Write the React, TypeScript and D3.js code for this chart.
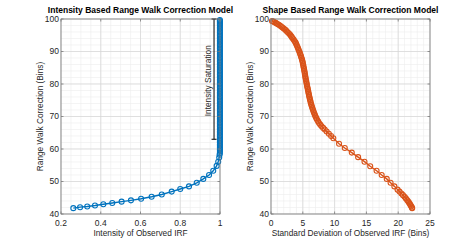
import React from "react";
import * as d3 from "d3";

// intensity model (left): curved part, then the saturated column at intensity 1
const intensityCurve: [number, number][] = [
  [0.262, 41.8], [0.296, 42.1], [0.332, 42.3], [0.371, 42.6], [0.413, 43.0],
  [0.458, 43.4], [0.505, 43.8], [0.552, 44.2], [0.603, 44.7], [0.656, 45.3],
  [0.707, 46.0], [0.757, 46.9], [0.8, 47.7], [0.844, 48.5], [0.883, 49.6],
  [0.916, 50.8], [0.945, 52.0], [0.966, 53.3], [0.983, 54.8], [0.991, 56.1],
  [0.996, 57.4], [0.998, 58.2],
];
const saturatedIntensity = 0.9995;
const saturatedY = [
  58.8, 59.4, 59.9, 60.4, 60.9, 61.4, 61.9, 62.4, 62.9, 63.4, 63.9, 64.4, 64.9,
  65.4, 65.9, 66.4, 66.9, 67.4, 67.9, 68.4, 68.9, 69.4, 69.9, 70.4, 70.9, 71.4,
  71.9, 72.4, 72.9, 73.4, 73.9, 74.4, 74.9, 75.4, 75.9, 76.4, 76.9, 77.4, 77.9,
  78.4, 78.9, 79.4, 79.9, 80.4, 80.9, 81.4, 81.9, 82.4, 82.9, 83.4, 83.9, 84.4,
  84.9, 85.4, 85.9, 86.4, 86.9, 87.4, 87.9, 88.4, 88.9, 89.4, 89.9, 90.4, 90.9,
  91.4, 91.9, 92.4, 92.9, 93.4, 93.9, 94.4, 94.9, 95.4, 95.9, 96.4, 96.9, 97.4,
  97.9, 98.3, 98.7, 99.1, 99.4, 99.7,
];

// shape model (right): [std dev, correction]
const shapeCurve: [number, number][] = [
  [0.15, 99.4], [0.35, 99.2], [0.55, 99.0], [0.75, 98.8], [0.95, 98.55],
  [1.15, 98.3], [1.35, 98.05], [1.55, 97.75], [1.75, 97.45], [1.95, 97.15],
  [2.15, 96.85], [2.35, 96.5], [2.55, 96.1], [2.75, 95.7], [2.95, 95.3],
  [3.1, 94.9], [3.25, 94.5], [3.4, 94.1], [3.55, 93.7], [3.7, 93.25],
  [3.85, 92.8], [3.95, 92.35], [4.05, 91.9], [4.15, 91.45], [4.25, 91.0],
  [4.35, 90.5], [4.45, 90.0], [4.55, 89.5], [4.63, 89.0], [4.72, 88.5],
  [4.8, 88.0], [4.88, 87.5], [4.95, 87.0], [5.0, 86.5], [5.05, 86.0],
  [5.1, 85.5], [5.15, 85.0], [5.2, 84.5], [5.25, 84.0], [5.3, 83.5],
  [5.33, 83.0], [5.38, 82.5], [5.42, 82.0], [5.47, 81.5], [5.52, 81.0],
  [5.57, 80.5], [5.62, 80.0], [5.67, 79.5], [5.72, 79.0], [5.78, 78.5],
  [5.83, 78.0], [5.88, 77.5], [5.93, 77.0], [5.98, 76.5], [6.04, 76.0],
  [6.1, 75.5], [6.16, 75.0], [6.22, 74.5], [6.28, 74.0], [6.36, 73.5],
  [6.44, 73.0], [6.52, 72.5], [6.61, 72.0], [6.7, 71.5], [6.79, 71.0],
  [6.9, 70.5], [7.0, 70.0], [7.12, 69.5], [7.25, 69.0], [7.4, 68.5],
  [7.55, 68.0], [7.75, 67.5], [7.95, 67.0], [8.2, 66.5], [8.45, 66.0],
  [8.75, 65.4], [9.1, 64.7], [9.45, 64.0], [9.8, 63.3], [10.7, 61.6],
  [11.6, 60.3], [12.7, 58.9], [13.7, 57.5], [14.7, 56.1], [15.6, 54.7],
  [16.6, 53.3], [17.4, 52.0], [18.2, 50.8], [18.8, 49.6], [19.4, 48.5],
  [19.9, 47.5], [20.2, 46.9], [20.5, 46.3], [20.75, 45.8], [21.0, 45.3],
  [21.2, 44.8], [21.4, 44.3], [21.55, 43.9], [21.7, 43.5], [21.85, 43.1],
  [21.95, 42.7], [22.05, 42.35], [22.15, 42.0], [22.2, 41.8],
];

const yTicks = [40, 50, 60, 70, 80, 90, 100];
const leftXTicks = [0.2, 0.4, 0.6, 0.8, 1];
const rightXTicks = [0, 5, 10, 15, 20, 25];

const saturationX = 0.97;
const saturationLow = 63;
const saturationHigh = 100;

const W = 475;
const H = 241;
const FONT = "'Liberation Sans', Arial, Helvetica, sans-serif";
const TXT = "#262626";
const AX = "#7a7a7a";

type Scale = d3.ScaleLinear<number, number>;

type PanelProps = {
  left: number;
  right: number;
  xDomain: [number, number];
  xTicks: number[];
  xMinorCount: number;
  pts: [number, number][];
  color: string;
  title: string;
  xLabel: string;
  children?: (x: Scale, y: Scale) => React.ReactNode;
};

const top = 19;
const bottom = 214;

function Panel({ left, right, xDomain, xTicks, xMinorCount, pts, color, title, xLabel, children }: PanelProps) {
  const x = d3.scaleLinear().domain(xDomain).range([left, right]);
  const y = d3.scaleLinear().domain([40, 100]).range([bottom, top]);
  const xMinor = x.ticks(xMinorCount);
  const yMinor = y.ticks(30);
  const line = d3.line<[number, number]>().x(d => x(d[0])).y(d => y(d[1]));
  const cx = (left + right) / 2;
  const cy = (top + bottom) / 2;
  const tl = 2.5;

  return (
    <g fontFamily={FONT}>
      <rect x={left} y={top} width={right - left} height={bottom - top} fill="#fff" />
      {/* minor grid */}
      {xMinor.map(t => (
        <line key={"xm" + t} x1={x(t)} x2={x(t)} y1={top} y2={bottom} stroke="#ececec" strokeWidth={0.6} />
      ))}
      {yMinor.map(t => (
        <line key={"ym" + t} x1={left} x2={right} y1={y(t)} y2={y(t)} stroke="#ececec" strokeWidth={0.6} />
      ))}
      {/* major grid */}
      {xTicks.map(t => (
        <line key={"xg" + t} x1={x(t)} x2={x(t)} y1={top} y2={bottom} stroke="#d6d6d6" strokeWidth={0.7} />
      ))}
      {yTicks.map(t => (
        <line key={"yg" + t} x1={left} x2={right} y1={y(t)} y2={y(t)} stroke="#d6d6d6" strokeWidth={0.7} />
      ))}

      {/* data */}
      <path d={line(pts) ?? ""} fill="none" stroke={color} strokeWidth={1.4} />
      {pts.map((p, i) => (
        <circle key={i} cx={x(p[0])} cy={y(p[1])} r={2.5} fill="none" stroke={color} strokeWidth={1.1} />
      ))}

      {children && children(x, y)}

      {/* box and ticks */}
      <rect x={left} y={top} width={right - left} height={bottom - top} fill="none" stroke={AX} strokeWidth={0.8} />
      {xTicks.map(t => (
        <g key={"xt" + t}>
          <line x1={x(t)} x2={x(t)} y1={bottom} y2={bottom - tl} stroke={AX} strokeWidth={0.8} />
          <line x1={x(t)} x2={x(t)} y1={top} y2={top + tl} stroke={AX} strokeWidth={0.8} />
          <text x={x(t)} y={225.5} textAnchor="middle" fontSize={8.5} fill={TXT}>
            {d3.format("~g")(t)}
          </text>
        </g>
      ))}
      {yTicks.map(t => (
        <g key={"yt" + t}>
          <line x1={left} x2={left + tl} y1={y(t)} y2={y(t)} stroke={AX} strokeWidth={0.8} />
          <line x1={right} x2={right - tl} y1={y(t)} y2={y(t)} stroke={AX} strokeWidth={0.8} />
          <text x={left - 2} y={y(t)} dy="0.35em" textAnchor="end" fontSize={8.5} fill={TXT}>
            {t}
          </text>
        </g>
      ))}

      <text x={cx} y={13} textAnchor="middle" fontSize={8.5} fontWeight="bold" fill="#000">
        {title}
      </text>
      <text x={cx} y={236} textAnchor="middle" fontSize={8.3} fill={TXT}>
        {xLabel}
      </text>
      <text transform={`translate(${left - 18},${cy}) rotate(-90)`} textAnchor="middle" fontSize={8.3} fill={TXT}>
        Range Walk Correction (Bins)
      </text>
    </g>
  );
}

export default function App() {
  const leftPts: [number, number][] = [
    ...intensityCurve,
    ...saturatedY.map(v => [saturatedIntensity, v] as [number, number]),
  ];
  return (
    <svg width={W} height={H} style={{ position: "absolute", left: 0, top: 0, background: "#fff" }}>
      <rect width={W} height={H} fill="#fff" />
      <Panel
        left={61}
        right={220}
        xDomain={[0.2, 1]}
        xTicks={leftXTicks}
        xMinorCount={16}
        pts={leftPts}
        color="#0072BD"
        title="Intensity Based Range Walk Correction Model"
        xLabel="Intensity of Observed IRF"
      >
        {(x, y) => (
          <g stroke="#000" strokeWidth={1}>
            <line x1={x(saturationX)} x2={x(saturationX)} y1={y(saturationLow)} y2={y(saturationHigh)} />
            <line x1={x(saturationX) - 2.5} x2={x(saturationX) + 2.5} y1={y(saturationLow)} y2={y(saturationLow)} />
            <line x1={x(saturationX) - 2.5} x2={x(saturationX) + 2.5} y1={y(saturationHigh)} y2={y(saturationHigh)} />
            <text
              transform={`translate(${x(saturationX) - 3},${y(81)}) rotate(-90)`}
              textAnchor="middle"
              fontSize={8.3}
              stroke="none"
              fill={TXT}
            >
              Intensity Saturation
            </text>
          </g>
        )}
      </Panel>
      <Panel
        left={271}
        right={430}
        xDomain={[0, 25]}
        xTicks={rightXTicks}
        xMinorCount={25}
        pts={shapeCurve}
        color="#D95319"
        title="Shape Based Range Walk Correction Model"
        xLabel="Standard Deviation of Observed IRF (Bins)"
      />
    </svg>
  );
}
